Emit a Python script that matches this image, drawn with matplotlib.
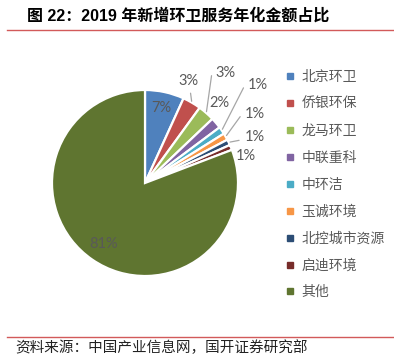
import numpy as np
import matplotlib
matplotlib.use("Agg")
import matplotlib.pyplot as plt
from matplotlib.lines import Line2D

plt.rcParams['font.family'] = ['Noto Sans CJK SC', 'DejaVu Sans']

# 数据
companies = ['北京环卫', '侨银环保', '龙马环卫', '中联重科', '中环洁',
             '玉诚环境', '北控城市资源', '启迪环境', '其他']
shares = [6.8, 3.2, 2.9, 1.9, 1.3, 1.2, 1.0, 0.9, 80.8]
pct_labels = ['7%', '3%', '3%', '2%', '1%', '1%', '1%', '1%', '81%']
colors = ['#4F81BD', '#C0504D', '#9BBB59', '#8064A2', '#4BACC6',
          '#F79646', '#2C4D75', '#772C2A', '#5F7530']

W, H = 394, 355
fig = plt.figure(figsize=(W / 100, H / 100), dpi=100)

# 饼图位置 (像素): 圆心 (145,183), 半径 93
cx, cy, r = 145, 183, 93
ax = fig.add_axes([(cx - r) / W, 1 - (cy + r) / H, 2 * r / W, 2 * r / H])
wedges, _ = ax.pie(shares, colors=colors, startangle=90, counterclock=False,
                   radius=1, wedgeprops=dict(edgecolor='white', linewidth=1.6))
ax.set_xlim(-1, 1)
ax.set_ylim(-1, 1)
ax.set_aspect('equal')
ax.axis('off')

lbl_font = dict(fontsize=10.5, color='#595959', family=['Lato', 'DejaVu Sans'])
line_col = '#A6A6A6'

# 标签: (类型, 偏移像素, 连接线样式)
label_cfg = [
    ('in', 0.82, None),
    ('out', (-3, 22), 'arc3'),
    ('out', (19, 40), 'angle,angleA=180,angleB=82,rad=0'),
    ('out', (3, 20), None),
    ('out', (36, 45), 'angle,angleA=180,angleB=63,rad=0'),
    ('out', (29, 23), 'angle,angleA=180,angleB=54,rad=0'),
    ('out', (26, 5), 'arc3'),
    ('out', (15, -9), None),
    ('in', 0.79, None),
]

for w, txt, (kind, pos, conn) in zip(wedges, pct_labels, label_cfg):
    mid = np.deg2rad((w.theta1 + w.theta2) / 2)
    if kind == 'in':
        ax.text(pos * np.cos(mid), pos * np.sin(mid), txt,
                ha='center', va='center', **lbl_font)
        continue
    ap = None
    if conn is not None:
        ap = dict(arrowstyle='-', color=line_col, lw=0.9,
                  connectionstyle=conn, shrinkA=2, shrinkB=1)
    ax.annotate(txt, xy=(np.cos(mid), np.sin(mid)), xytext=pos,
                textcoords='offset pixels', ha='center', va='center',
                arrowprops=ap, **lbl_font)

# 图例
handles = [Line2D([], [], marker='s', ls='', color=c, markersize=4.5) for c in colors]
fig.legend(handles, companies, loc='upper left',
           bbox_to_anchor=(278 / W, 1 - 63 / H), bbox_transform=fig.transFigure,
           frameon=False, fontsize=10, labelcolor='#595959',
           handlelength=0.7, handletextpad=0.5, labelspacing=0.93, borderpad=0)

# 标题与来源
fig.text(27 / W, 1 - 16 / H, '图 22：2019 年新增环卫服务年化金额占比',
         fontsize=11.5, fontweight='bold', va='center', ha='left',
         family=['Liberation Sans', 'Noto Sans CJK SC'])
for yy in (29.5, 336.5):
    fig.add_artist(Line2D([7 / W, 393 / W], [1 - yy / H, 1 - yy / H],
                          color='#D25A5A', lw=1, transform=fig.transFigure))
fig.text(15 / W, 1 - 348 / H, '资料来源：中国产业信息网，国开证券研究部',
         fontsize=10.5, va='center', ha='left', color='#222222')

fig.savefig('out.png', dpi=100)
